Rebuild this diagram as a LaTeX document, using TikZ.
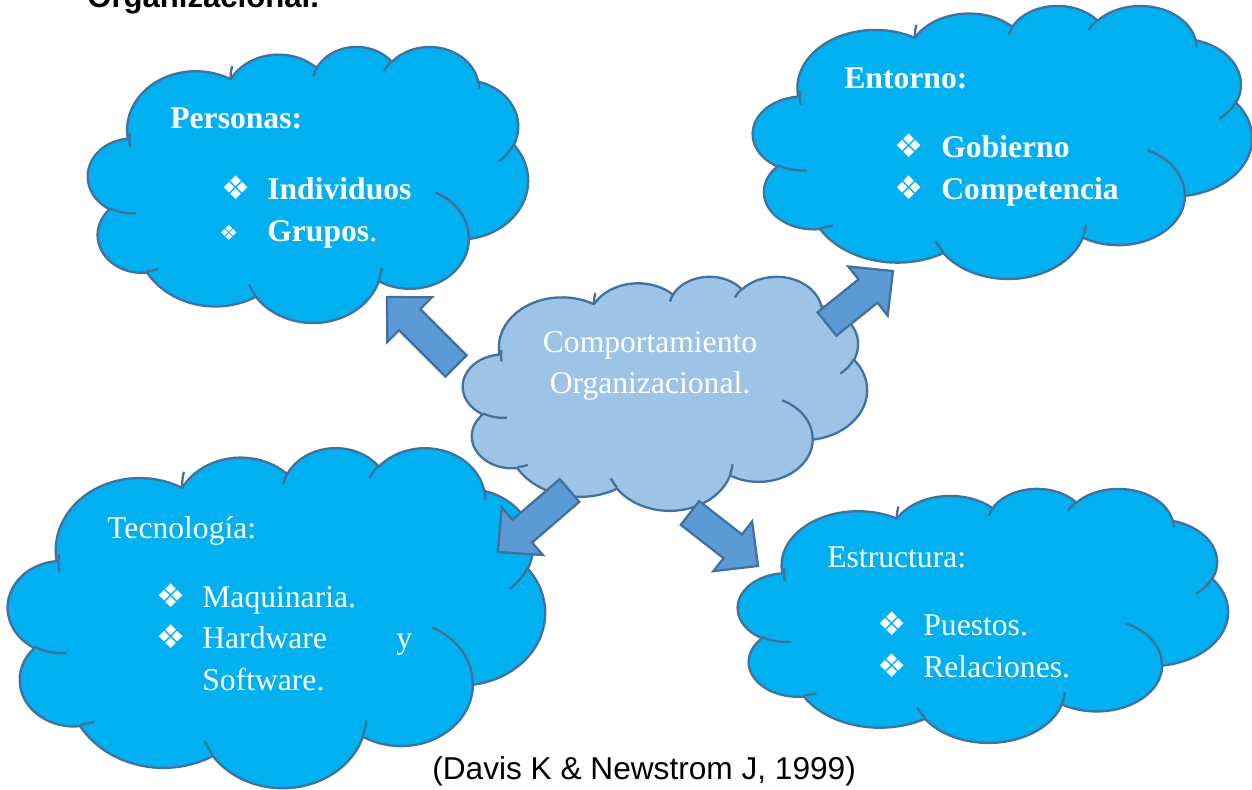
\documentclass[tikz,border=0pt]{standalone}
\usepackage{fontspec}
\setmainfont{Liberation Serif}
\newfontfamily\capfont{Liberation Sans}
\newfontfamily\dingfont{DejaVu Sans}
\definecolor{cloudblue}{HTML}{00B0F0}
\definecolor{edgeblue}{HTML}{41719C}
\definecolor{centerblue}{HTML}{9DC3E6}
\definecolor{arrowblue}{HTML}{5B9BD5}

% one arcTo of an Office path: wR, hR, start angle, sweep (degrees, visual angles)
\newcommand\oa[4]{\pgfextra{%
  \pgfmathsetmacro\oaS{atan2((#1)*sin(#3),(#2)*cos(#3))}%
  \pgfmathsetmacro\oaE{atan2((#1)*sin((#3)+(#4)),(#2)*cos((#3)+(#4)))}%
  \pgfmathsetmacro\oaD{\oaE-\oaS}%
  \pgfmathsetmacro\oaD{\oaD+360*((#4)>0)*(\oaD<0)-360*((#4)<0)*(\oaD>0)}%
  \global\let\oaSg\oaS \global\let\oaDg\oaD}%
  arc[start angle=\oaSg, delta angle=\oaDg, x radius=#1, y radius=#2]}

% Office cloud in box x0 y0 w h (pixels), fill colour
\newcommand\officecloud[5]{%
  \pgfmathsetlengthmacro\cxu{#3*0.02cm/43.2}%
  \pgfmathsetlengthmacro\cyu{-#4*0.02cm/43.2}%
  \begin{scope}[shift={(#1*0.02cm,-#2*0.02cm)}, x=\cxu, y=\cyu]
    \path[cloudedge, fill=#5] (3.900,14.370)
      \oa{6.753}{9.190}{-190.48748}{123.78053}
      \oa{5.333}{7.267}{-144.10238}{89.94523}
      \oa{4.365}{5.945}{-145.80792}{99.72302}
      \oa{4.857}{6.595}{-130.98607}{117.24173}
      \oa{5.333}{7.273}{-78.70888}{109.02692}
      \oa{6.775}{9.220}{-46.26725}{130.26900}
      \oa{5.785}{7.867}{0.62502}{114.03333}
      \oa{6.752}{9.215}{22.45160}{115.17255}
      \oa{7.720}{10.543}{66.24263}{75.71102}
      \oa{4.360}{5.918}{-274.94208}{146.73557}
      \oa{4.345}{5.945}{-246.82850}{152.51885}
      -- cycle;
    \path[cloudedge]
      (4.693,26.177) \oa{4.345}{5.945}{86.74200}{26.42950}
      (6.928,34.899) \oa{4.360}{5.918}{73.61047}{11.44747}
      (16.478,39.090) \oa{6.752}{9.215}{137.62415}{14.08110}
      (28.827,34.751) \oa{6.752}{9.215}{6.45327}{15.99835}
      (34.129,22.954) \oa{5.785}{7.867}{-70.29235}{70.91737}
      (41.798,15.354) \oa{5.333}{7.273}{30.31803}{27.75150}
      (38.324,5.426) \oa{4.857}{6.595}{-13.74433}{14.85890}
      (29.078,3.952) \oa{4.857}{6.595}{-149.18145}{18.19537}
      (22.141,4.720) \oa{4.365}{5.945}{-163.49427}{17.68635}
      (14.000,5.192) \oa{6.753}{9.190}{-181.00768}{17.25355}
      (4.127,15.789) \oa{6.753}{9.190}{-190.48748}{18.07250};
  \end{scope}}

% block arrow: name, tail x, tail y, canvas angle, length
\newcommand\barrow[5]{%
  \begin{scope}[shift={(#2,#3)}, rotate=#4]
    \draw[blockarrow] (0,15) coordinate (#1-a) -- (#5-32,15) -- (#5-32,31.5)
      -- (#5,0) coordinate (#1-tip) -- (#5-32,-31.5) -- (#5-32,-15)
      -- (0,-15) coordinate (#1-b) -- cycle;
  \end{scope}}

\begin{document}
\begin{tikzpicture}[x=0.02cm, y=-0.02cm,
  cloudedge/.style={draw=edgeblue, line width=1.3pt, line join=round},
  blockarrow/.style={draw=edgeblue, fill=arrowblue, line width=1.3pt, line join=miter},
  txt/.style={text=white, inner sep=0pt, anchor=base west, font=\fontsize{18}{22}\selectfont},
  btxt/.style={txt, font=\fontsize{18}{22}\selectfont\bfseries},
  bul/.style={text=white, inner sep=0pt, anchor=base west, font=\dingfont\fontsize{18.5}{18}\selectfont},
  sbul/.style={bul, font=\dingfont\fontsize{12}{12}\selectfont}]
\useasboundingbox (0,0) rectangle (1252,789);

% clipped heading at the top
\node[inner sep=0pt, anchor=base west, font=\capfont\fontsize{17.7}{20}\selectfont\bfseries] (head) at (87,7) {Organizacional.};

% clouds
\officecloud{88}{46}{440}{276}{cloudblue}
\officecloud{753}{5}{499}{273}{cloudblue}
\officecloud{463}{276}{404}{234}{centerblue}
\officecloud{8}{447}{537}{340}{cloudblue}
\officecloud{738}{488}{490}{254}{cloudblue}

% Personas
\node[btxt] (per) at (170,128) {Personas:};
\node[bul] (perb1) at (221,199) {❖};
\node[btxt] (per1) at (267,199) {Individuos};
\node[sbul] (perb2) at (219,240) {❖};
\node[btxt] (per2) at (267,241) {Grupos\mdseries.};

% Entorno
\node[btxt] (ent) at (844,88) {Entorno:};
\node[bul] (entb1) at (894,157) {❖};
\node[btxt] (ent1) at (941,157) {Gobierno};
\node[bul] (entb2) at (894,199) {❖};
\node[btxt] (ent2) at (941,199) {Competencia};

% centre
\node[txt, anchor=base] (c1) at (650,352) {Comportamiento};
\node[txt, anchor=base] (c2) at (650,393) {Organizacional.};

% Tecnologia
\node[txt] (tec) at (107,538) {Tecnología:};
\node[bul] (tecb1) at (156,607) {❖};
\node[txt] (tec1) at (202,607) {Maquinaria.};
\node[bul] (tecb2) at (156,648) {❖};
\node[txt] (tec2) at (202,648) {Hardware};
\node[txt] (tec2y) at (396,648) {y};
\node[txt] (tec3) at (202,690) {Software.};

% Estructura
\node[txt] (est) at (827,567) {Estructura:};
\node[bul] (estb1) at (877,635) {❖};
\node[txt] (est1) at (923,635) {Puestos.};
\node[bul] (estb2) at (877,677) {❖};
\node[txt] (est2) at (923,677) {Relaciones.};

% arrows
\barrow{arP}{456}{366}{135}{97.6}
\barrow{arE}{827}{324}{38.8}{84.6}
\barrow{arT}{569.5}{490.5}{-139.3}{94.3}
\barrow{arS}{690}{513}{-37.9}{86.2}

% caption
\node[inner sep=0pt, anchor=base west, font=\capfont\fontsize{18}{22}\selectfont] (cap) at (432,779) {(Davis K \& Newstrom J, 1999)};
\end{tikzpicture}
\end{document}
